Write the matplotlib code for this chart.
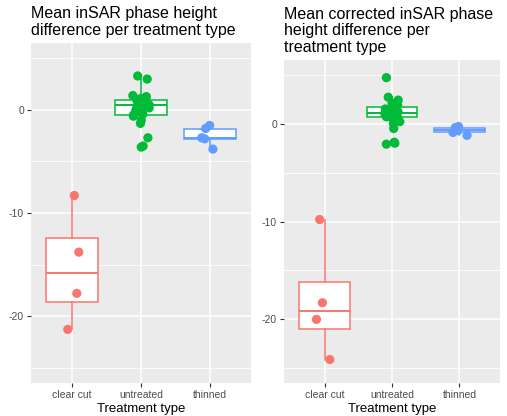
import numpy as np
import matplotlib
matplotlib.use("Agg")
import matplotlib.pyplot as plt

plt.rcParams['font.family'] = ['Liberation Sans', 'DejaVu Sans']

categories = ['clear cut', 'untreated', 'thinned']
colors = ['#F8766D', '#00BA38', '#619CFF']

# left panel: mean inSAR phase height difference
left_clear = [-8.3, -13.8, -17.8, -21.3]
left_untreated = [3.3, 3.0, 1.4, 1.3, 1.2, 1.1, 1.0, 1.0, 0.9, 0.8, 0.7, 0.6, 0.5,
                  0.4, 0.3, 0.2, 0.1, -0.2, -0.4, -0.5, -0.6, -1.0, -1.3, -2.7, -3.5, -3.6]
left_thinned = [-1.5, -1.8, -2.7, -2.8, -3.8]

# right panel: mean corrected inSAR phase height difference
right_clear = [-9.8, -18.3, -20.0, -24.1]
right_untreated = [4.7, 2.7, 2.4, 2.1, 1.9, 1.7, 1.7, 1.5, 1.4, 1.3, 1.2, 1.1, 1.1,
                   1.0, 0.9, 0.8, 0.7, 0.7, 0.7, 0.2, 0.0, -0.5, -1.9, -2.0, -2.1]
right_thinned = [-0.3, -0.4, -0.7, -0.9, -1.2]

yticks = [0, -10, -20]

fig = plt.figure(figsize=(5.07, 4.16), dpi=100)
ax1 = fig.add_axes([31 / 507, 1 - 383 / 416, 220 / 507, 340 / 416])
ax2 = fig.add_axes([284 / 507, 1 - 383 / 416, 216 / 507, 323 / 416])

rng = np.random.default_rng(7)


def panel(ax, groups, title):
    ax.set_facecolor('#EBEBEB')
    for s in ax.spines.values():
        s.set_visible(False)
    for y in [5, -5, -15, -25]:
        ax.axhline(y, color='white', lw=0.55, zorder=0)
    for y in yticks:
        ax.axhline(y, color='white', lw=1.1, zorder=0)
    for i in range(3):
        ax.axvline(i + 1, color='white', lw=1.1, zorder=0)
    for i, (vals, c) in enumerate(zip(groups, colors)):
        ax.boxplot(vals, positions=[i + 1], widths=0.75, showfliers=False,
                   patch_artist=True, manage_ticks=False,
                   boxprops=dict(facecolor='white', edgecolor=c, lw=1.1),
                   medianprops=dict(color=c, lw=1.4),
                   whiskerprops=dict(color=c, lw=1.1),
                   capprops=dict(lw=0), zorder=2)
        jit = rng.uniform(-0.12, 0.12, len(vals))
        ax.scatter(np.full(len(vals), i + 1) + jit, vals, s=44, color=c,
                   edgecolors='none', zorder=3)
    ax.set_xlim(0.4, 3.6)
    ax.set_ylim(-26.5, 6.5)
    ax.set_xticks([1, 2, 3])
    ax.set_xticklabels(categories)
    ax.set_yticks(yticks)
    ax.set_yticklabels([str(t) for t in yticks])
    ax.tick_params(colors='#333333', labelcolor='#4D4D4D', labelsize=7.5,
                   length=3, width=0.8, pad=2)
    ax.set_xlabel('Treatment type', fontsize=9.5, labelpad=2)
    ax.set_title(title, loc='left', fontsize=11.5, pad=6, linespacing=1.1)


panel(ax1, [left_clear, left_untreated, left_thinned],
      'Mean inSAR phase height\ndifference per treatment type')
panel(ax2, [right_clear, right_untreated, right_thinned],
      'Mean corrected inSAR phase\nheight difference per\ntreatment type')

fig.savefig('out.png', dpi=100)
